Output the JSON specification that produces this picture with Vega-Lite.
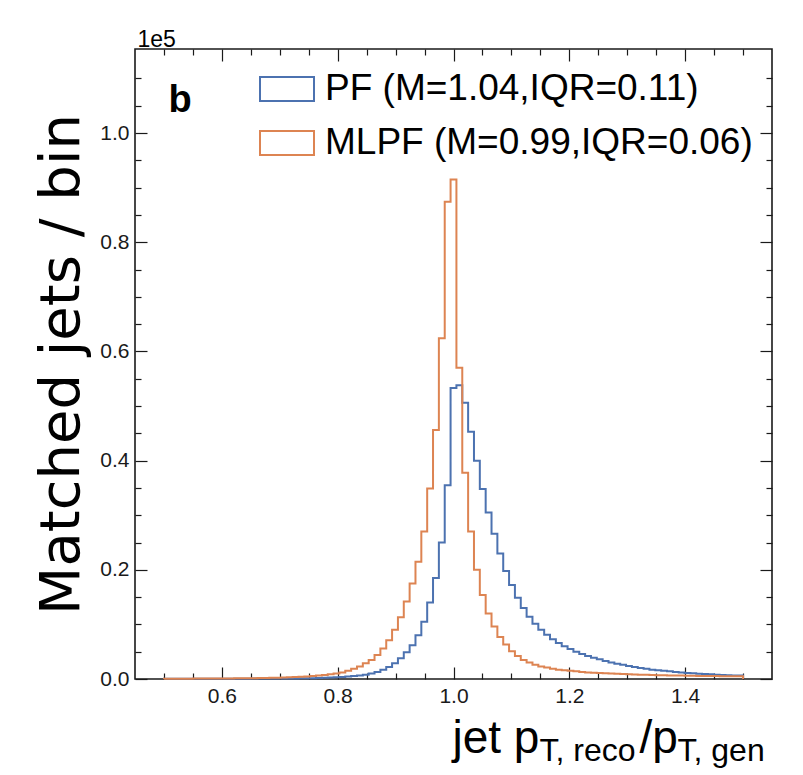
{
  "$schema": "https://vega.github.io/schema/vega-lite/v6.json",
  "width": 637,
  "height": 630,
  "autosize": {"type": "none"},
  "padding": {"left": 135, "top": 49, "right": 31, "bottom": 96},
  "background": "white",
  "config": {
    "font": "Liberation Sans",
    "view": {"stroke": "#1a1a1a", "strokeWidth": 1.6},
    "axis": {"domain": false, "grid": false, "tickColor": "#1a1a1a", "tickWidth": 1.2, "labelColor": "#1a1a1a", "titleColor": "#000000", "titleFontWeight": "normal", "labelFontSize": 21}
  },
  "data": {"values": [
    {"i":0,"x":0.5,"pf":0,"ml":0},
    {"i":1,"x":0.5,"pf":0.0003,"ml":0.0005},
    {"i":2,"x":0.5101,"pf":0.0003,"ml":0.0005},
    {"i":3,"x":0.5202,"pf":0.0003,"ml":0.0006},
    {"i":4,"x":0.5303,"pf":0.0003,"ml":0.0006},
    {"i":5,"x":0.5404,"pf":0.0004,"ml":0.0006},
    {"i":6,"x":0.55051,"pf":0.0004,"ml":0.0007},
    {"i":7,"x":0.56061,"pf":0.0004,"ml":0.0007},
    {"i":8,"x":0.57071,"pf":0.0004,"ml":0.0008},
    {"i":9,"x":0.58081,"pf":0.0005,"ml":0.0008},
    {"i":10,"x":0.59091,"pf":0.0005,"ml":0.0009},
    {"i":11,"x":0.60101,"pf":0.0005,"ml":0.0010},
    {"i":12,"x":0.61111,"pf":0.0005,"ml":0.0011},
    {"i":13,"x":0.62121,"pf":0.0006,"ml":0.0012},
    {"i":14,"x":0.63131,"pf":0.0006,"ml":0.0013},
    {"i":15,"x":0.64141,"pf":0.0006,"ml":0.0014},
    {"i":16,"x":0.65152,"pf":0.0007,"ml":0.0016},
    {"i":17,"x":0.66162,"pf":0.0007,"ml":0.0018},
    {"i":18,"x":0.67172,"pf":0.0008,"ml":0.0020},
    {"i":19,"x":0.68182,"pf":0.0008,"ml":0.0022},
    {"i":20,"x":0.69192,"pf":0.0009,"ml":0.0025},
    {"i":21,"x":0.70202,"pf":0.0009,"ml":0.0028},
    {"i":22,"x":0.71212,"pf":0.0010,"ml":0.0032},
    {"i":23,"x":0.72222,"pf":0.0011,"ml":0.0036},
    {"i":24,"x":0.73232,"pf":0.0012,"ml":0.0041},
    {"i":25,"x":0.74242,"pf":0.0014,"ml":0.0047},
    {"i":26,"x":0.75253,"pf":0.0016,"ml":0.0054},
    {"i":27,"x":0.76263,"pf":0.0019,"ml":0.0062},
    {"i":28,"x":0.77273,"pf":0.0022,"ml":0.0072},
    {"i":29,"x":0.78283,"pf":0.0026,"ml":0.0085},
    {"i":30,"x":0.79293,"pf":0.0031,"ml":0.010},
    {"i":31,"x":0.80303,"pf":0.0037,"ml":0.012},
    {"i":32,"x":0.81313,"pf":0.0044,"ml":0.015},
    {"i":33,"x":0.82323,"pf":0.0053,"ml":0.019},
    {"i":34,"x":0.83333,"pf":0.0065,"ml":0.023},
    {"i":35,"x":0.84343,"pf":0.008,"ml":0.029},
    {"i":36,"x":0.85354,"pf":0.010,"ml":0.035},
    {"i":37,"x":0.86364,"pf":0.013,"ml":0.044},
    {"i":38,"x":0.87374,"pf":0.017,"ml":0.056},
    {"i":39,"x":0.88384,"pf":0.022,"ml":0.071},
    {"i":40,"x":0.89394,"pf":0.029,"ml":0.090},
    {"i":41,"x":0.90404,"pf":0.038,"ml":0.113},
    {"i":42,"x":0.91414,"pf":0.049,"ml":0.142},
    {"i":43,"x":0.92424,"pf":0.062,"ml":0.175},
    {"i":44,"x":0.93434,"pf":0.080,"ml":0.215},
    {"i":45,"x":0.94444,"pf":0.105,"ml":0.270},
    {"i":46,"x":0.95455,"pf":0.140,"ml":0.349},
    {"i":47,"x":0.96465,"pf":0.185,"ml":0.456},
    {"i":48,"x":0.97475,"pf":0.250,"ml":0.624},
    {"i":49,"x":0.98485,"pf":0.355,"ml":0.874},
    {"i":50,"x":0.99495,"pf":0.533,"ml":0.915},
    {"i":51,"x":1.00505,"pf":0.538,"ml":0.570},
    {"i":52,"x":1.01515,"pf":0.506,"ml":0.378},
    {"i":53,"x":1.02525,"pf":0.453,"ml":0.270},
    {"i":54,"x":1.03535,"pf":0.400,"ml":0.200},
    {"i":55,"x":1.04545,"pf":0.348,"ml":0.154},
    {"i":56,"x":1.05556,"pf":0.305,"ml":0.120},
    {"i":57,"x":1.06566,"pf":0.266,"ml":0.096},
    {"i":58,"x":1.07576,"pf":0.230,"ml":0.077},
    {"i":59,"x":1.08586,"pf":0.198,"ml":0.063},
    {"i":60,"x":1.09596,"pf":0.172,"ml":0.051},
    {"i":61,"x":1.10606,"pf":0.149,"ml":0.042},
    {"i":62,"x":1.11616,"pf":0.130,"ml":0.035},
    {"i":63,"x":1.12626,"pf":0.114,"ml":0.030},
    {"i":64,"x":1.13636,"pf":0.101,"ml":0.026},
    {"i":65,"x":1.14646,"pf":0.090,"ml":0.023},
    {"i":66,"x":1.15657,"pf":0.081,"ml":0.021},
    {"i":67,"x":1.16667,"pf":0.073,"ml":0.019},
    {"i":68,"x":1.17677,"pf":0.066,"ml":0.017},
    {"i":69,"x":1.18687,"pf":0.060,"ml":0.016},
    {"i":70,"x":1.19697,"pf":0.055,"ml":0.015},
    {"i":71,"x":1.20707,"pf":0.050,"ml":0.014},
    {"i":72,"x":1.21717,"pf":0.046,"ml":0.013},
    {"i":73,"x":1.22727,"pf":0.042,"ml":0.012},
    {"i":74,"x":1.23737,"pf":0.039,"ml":0.0115},
    {"i":75,"x":1.24747,"pf":0.036,"ml":0.011},
    {"i":76,"x":1.25758,"pf":0.033,"ml":0.0105},
    {"i":77,"x":1.26768,"pf":0.030,"ml":0.010},
    {"i":78,"x":1.27778,"pf":0.028,"ml":0.0095},
    {"i":79,"x":1.28788,"pf":0.026,"ml":0.009},
    {"i":80,"x":1.29798,"pf":0.024,"ml":0.0086},
    {"i":81,"x":1.30808,"pf":0.022,"ml":0.0082},
    {"i":82,"x":1.31818,"pf":0.020,"ml":0.0079},
    {"i":83,"x":1.32828,"pf":0.019,"ml":0.0076},
    {"i":84,"x":1.33838,"pf":0.017,"ml":0.0073},
    {"i":85,"x":1.34848,"pf":0.016,"ml":0.0070},
    {"i":86,"x":1.35859,"pf":0.015,"ml":0.0068},
    {"i":87,"x":1.36869,"pf":0.014,"ml":0.0066},
    {"i":88,"x":1.37879,"pf":0.013,"ml":0.0064},
    {"i":89,"x":1.38889,"pf":0.012,"ml":0.0062},
    {"i":90,"x":1.39899,"pf":0.011,"ml":0.0060},
    {"i":91,"x":1.40909,"pf":0.0105,"ml":0.0058},
    {"i":92,"x":1.41919,"pf":0.0098,"ml":0.0057},
    {"i":93,"x":1.42929,"pf":0.0092,"ml":0.0055},
    {"i":94,"x":1.43939,"pf":0.0086,"ml":0.0054},
    {"i":95,"x":1.44949,"pf":0.0080,"ml":0.0053},
    {"i":96,"x":1.4596,"pf":0.0075,"ml":0.0052},
    {"i":97,"x":1.4697,"pf":0.0070,"ml":0.0051},
    {"i":98,"x":1.4798,"pf":0.0066,"ml":0.0050},
    {"i":99,"x":1.4899,"pf":0.0062,"ml":0.0049},
    {"i":100,"x":1.5,"pf":0.0062,"ml":0.0049},
    {"i":101,"x":1.5,"pf":0,"ml":0}
  ]},
  "transform": [{"fold": ["pf", "ml"], "as": ["s", "y"]}],
  "layer": [
    {
      "mark": {"type": "line", "interpolate": "step-after", "strokeWidth": 2},
      "encoding": {
        "x": {"field": "x", "type": "quantitative",
          "scale": {"domain": [0.45, 1.55], "nice": false, "zero": false},
          "axis": {"orient": "bottom", "values": [0.6, 0.8, 1.0, 1.2, 1.4], "format": ".1f", "ticks": false, "labelPadding": 6, "labelFontSize": 21,
            "title": "jet p", "titleFontSize": 46, "titleX": 317, "titleY": 73, "titleAlign": "left", "titleBaseline": "alphabetic", "titleAngle": 0}},
        "y": {"field": "y", "type": "quantitative",
          "scale": {"domain": [0, 1.154], "nice": false, "zero": false},
          "axis": {"orient": "left", "values": [0, 0.2, 0.4, 0.6, 0.8, 1.0], "format": ".1f", "ticks": false, "labelPadding": 6, "labelFontSize": 21,
            "title": "Matched jets / bin", "titleFont": "DejaVu Sans", "titleFontSize": 56, "titlePadding": 9}},
        "color": {"field": "s", "type": "nominal",
          "scale": {"domain": ["pf", "ml"], "range": ["#4C72B0", "#DD8452"]},
          "legend": {"orient": "none", "legendX": 124, "legendY": 12, "title": null, "padding": 0,
            "symbolType": "M-1,-0.44H1V0.44H-1Z", "symbolSize": 2916, "symbolStrokeWidth": 2,
            "labelFontSize": 37, "labelColor": "#000000", "labelOffset": 10, "labelLimit": 800, "rowPadding": 8,
            "labelExpr": "datum.value == 'pf' ? 'PF (M=1.04,IQR=0.11)' : 'MLPF (M=0.99,IQR=0.06)'"}},
        "order": {"field": "i", "type": "quantitative"}
      }
    },
    {
      "mark": {"type": "line", "opacity": 0},
      "encoding": {
        "x": {"field": "x", "type": "quantitative",
          "axis": {"orient": "bottom", "values": [0.6, 0.8, 1.0, 1.2, 1.4], "tickSize": -12, "labels": false,
            "title": "T, reco", "titleFontSize": 32, "titleX": 404, "titleY": 81, "titleAlign": "left", "titleBaseline": "alphabetic", "titleAngle": 0}},
        "y": {"field": "y", "type": "quantitative",
          "axis": {"orient": "left", "values": [0, 0.2, 0.4, 0.6, 0.8, 1.0], "tickSize": -12, "labels": false, "title": null}},
        "detail": {"field": "s"},
        "order": {"field": "i", "type": "quantitative"}
      }
    },
    {
      "mark": {"type": "line", "opacity": 0},
      "encoding": {
        "x": {"field": "x", "type": "quantitative",
          "axis": {"orient": "bottom", "values": [0.5, 0.55, 0.65, 0.7, 0.75, 0.85, 0.9, 0.95, 1.05, 1.1, 1.15, 1.25, 1.3, 1.35, 1.45, 1.5], "tickSize": -6, "labels": false,
            "title": "/p", "titleFontSize": 46, "titleX": 504, "titleY": 73, "titleAlign": "left", "titleBaseline": "alphabetic", "titleAngle": 0}},
        "y": {"field": "y", "type": "quantitative",
          "axis": {"orient": "left", "values": [0.05, 0.1, 0.15, 0.25, 0.3, 0.35, 0.45, 0.5, 0.55, 0.65, 0.7, 0.75, 0.85, 0.9, 0.95, 1.05, 1.1], "tickSize": -6, "labels": false, "title": null}},
        "detail": {"field": "s"},
        "order": {"field": "i", "type": "quantitative"}
      }
    },
    {
      "mark": {"type": "line", "opacity": 0},
      "encoding": {
        "x": {"field": "x", "type": "quantitative",
          "axis": {"orient": "bottom", "ticks": false, "labels": false,
            "title": "T, gen", "titleFontSize": 32, "titleX": 542, "titleY": 81, "titleAlign": "left", "titleBaseline": "alphabetic", "titleAngle": 0}},
        "y": {"field": "y", "type": "quantitative", "axis": null},
        "detail": {"field": "s"},
        "order": {"field": "i", "type": "quantitative"}
      }
    },
    {
      "mark": {"type": "line", "opacity": 0},
      "encoding": {
        "x": {"field": "x", "type": "quantitative",
          "axis": {"orient": "top", "values": [0.6, 0.8, 1.0, 1.2, 1.4], "tickSize": -12, "labels": false,
            "title": "1e5", "titleFontSize": 23, "titleX": 2, "titleY": -3, "titleAlign": "left", "titleBaseline": "alphabetic", "titleAngle": 0}},
        "y": {"field": "y", "type": "quantitative",
          "axis": {"orient": "right", "values": [0, 0.2, 0.4, 0.6, 0.8, 1.0], "tickSize": -12, "labels": false, "title": null}},
        "detail": {"field": "s"},
        "order": {"field": "i", "type": "quantitative"}
      }
    },
    {
      "mark": {"type": "line", "opacity": 0},
      "encoding": {
        "x": {"field": "x", "type": "quantitative",
          "axis": {"orient": "top", "values": [0.5, 0.55, 0.65, 0.7, 0.75, 0.85, 0.9, 0.95, 1.05, 1.1, 1.15, 1.25, 1.3, 1.35, 1.45, 1.5], "tickSize": -6, "labels": false,
            "title": "b", "titleFontSize": 38, "titleFontWeight": "bold", "titleX": 33, "titleY": 62, "titleAlign": "left", "titleBaseline": "alphabetic", "titleAngle": 0}},
        "y": {"field": "y", "type": "quantitative",
          "axis": {"orient": "right", "values": [0.05, 0.1, 0.15, 0.25, 0.3, 0.35, 0.45, 0.5, 0.55, 0.65, 0.7, 0.75, 0.85, 0.9, 0.95, 1.05, 1.1], "tickSize": -6, "labels": false, "title": null}},
        "detail": {"field": "s"},
        "order": {"field": "i", "type": "quantitative"}
      }
    }
  ],
  "resolve": {"axis": {"x": "independent", "y": "independent"}}
}
